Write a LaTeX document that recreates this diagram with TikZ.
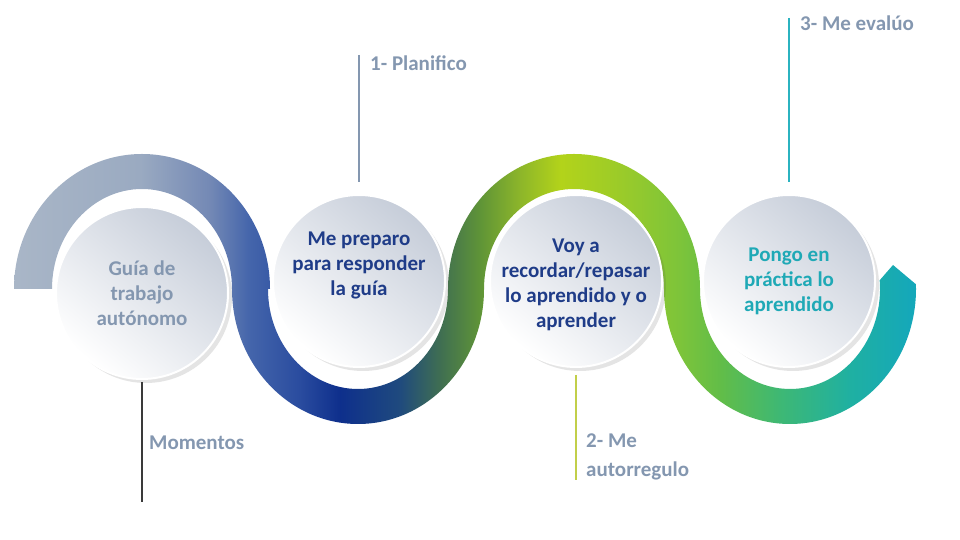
\documentclass[tikz,border=0pt]{standalone}
\usepackage{fontspec}
\setmainfont{Carlito}
\usetikzlibrary{shadows}

\definecolor{grayblue}{HTML}{8497B0}
\definecolor{navytext}{HTML}{1F3C88}
\definecolor{tealtext}{HTML}{1FA9B6}
\definecolor{circTop}{HTML}{C6CDD9}
\definecolor{lineDark}{HTML}{3A3A3A}
\definecolor{lineLime}{HTML}{C2CF4A}
\definecolor{lineTeal}{HTML}{2BB3C0}

% colours of the band, left to right
\definecolor{bandA}{HTML}{A9B6C7}
\definecolor{bandB}{HTML}{9AAAC1}
\definecolor{bandC}{HTML}{7489B5}
\definecolor{bandD}{HTML}{4465AB}
\definecolor{bandE}{HTML}{2A4C9F}
\definecolor{bandF}{HTML}{0E2F8C}
\definecolor{bandG}{HTML}{1F4A7E}
\definecolor{bandH}{HTML}{3F6E52}
\definecolor{bandI}{HTML}{5F9437}
\definecolor{bandJ}{HTML}{8DB62A}
\definecolor{bandK}{HTML}{B3D31A}
\definecolor{bandL}{HTML}{9BCB29}
\definecolor{bandM}{HTML}{7DC43A}
\definecolor{bandN}{HTML}{62BD48}
\definecolor{bandO}{HTML}{3EB874}
\definecolor{bandP}{HTML}{1FB0A2}
\definecolor{bandQ}{HTML}{15A8B9}

\pgfdeclarehorizontalshading{snakeband}{100bp}{%
  color(0bp)=(bandA); color(25.8bp)=(bandA); color(32.3bp)=(bandB);
  color(35.9bp)=(bandC); color(38bp)=(bandD); color(40.6bp)=(bandE);
  color(42.7bp)=(bandF); color(45.8bp)=(bandG); color(47.9bp)=(bandH);
  color(50bp)=(bandI); color(52.1bp)=(bandJ); color(54.2bp)=(bandK);
  color(57.3bp)=(bandL); color(60.4bp)=(bandM); color(62.5bp)=(bandN);
  color(65.6bp)=(bandO); color(69.3bp)=(bandP); color(72.4bp)=(bandQ);
  color(100bp)=(bandQ)}

\begin{document}
\begin{tikzpicture}[x=1pt, y=1pt,
    circ/.style = {circle, minimum size=172, inner sep=0pt,
      top color=circTop, bottom color=white, shading angle=-40,
      draw=white, line width=2,
      drop shadow={shadow xshift=4, shadow yshift=-4, opacity=0.15, fill=black!70}},
    txt/.style = {font=\fontsize{21}{25}\selectfont\bfseries, align=center},
    lbl/.style = {font=\fontsize{21}{29}\selectfont\bfseries, text=grayblue, anchor=west, inner sep=0pt}]
  \useasboundingbox (0,0) rectangle (960,540);

  \def\bandY{251}
  \def\rOx{126}
  \def\rOy{135}
  \def\rIx{90}
  \def\rIy{100}

  % the wavy band
  \begin{scope}
    \clip (14,\bandY) arc[start angle=180, end angle=0, x radius=128, y radius=\rOy]
        -- (232,\bandY) arc[start angle=0, end angle=180, x radius=\rIx, y radius=\rIy] -- cycle
      (232,\bandY) arc[start angle=180, end angle=360, x radius=\rOx, y radius=\rOy]
        -- (448,\bandY) arc[start angle=360, end angle=180, x radius=\rIx, y radius=\rIy] -- cycle
      (448,\bandY) arc[start angle=180, end angle=0, x radius=\rOx, y radius=\rOy]
        -- (664,\bandY) arc[start angle=0, end angle=180, x radius=\rIx, y radius=\rIy] -- cycle
      (664,\bandY) arc[start angle=180, end angle=362, x radius=\rOx, y radius=\rOy]
        -- (893,275) -- ({790+\rIx*cos(5)},{\bandY+\rIy*sin(5)})
        arc[start angle=5, end angle=-180, x radius=\rIx, y radius=\rIy] -- cycle;
    \shade[shading=snakeband] (0,0) rectangle (960,540);
  \end{scope}

  % circles
  \node[circ] (guia) at (142,247) {};
  \node[circ] (prepara) at (359,259) {};
  \node[circ] (recuerda) at (576,259) {};
  \node[circ] (practica) at (789,259) {};

  \node[txt, text=grayblue] (guiaTxt) at (guia.center) {Guía de\\trabajo\\autónomo};
  \node[txt, text=navytext] (preparaTxt) at ([yshift=16]prepara.center) {Me preparo\\para responder\\la guía};
  \node[txt, text=navytext] (recuerdaTxt) at ([yshift=-4]recuerda.center) {Voy a\\recordar/repasar\\lo aprendido y o\\aprender};
  \node[txt, text=tealtext] (practicaTxt) at (practica.center) {Pongo en\\práctica lo\\aprendido};

  % moments
  \coordinate (momEnd) at (142,38);
  \coordinate (planTop) at (359,485);
  \coordinate (autoEnd) at (576,60);
  \coordinate (evalTop) at (789,522);

  \begin{scope}[line width=2]
    \draw[lineDark] ([yshift=-2]guia.south) -- (momEnd);
    \draw[grayblue] (planTop) -- ([yshift=12]prepara.north);
    \draw[lineLime] ([yshift=-7]recuerda.south) -- (autoEnd);
    \draw[lineTeal] (evalTop) -- ([yshift=12]practica.north);
  \end{scope}

  \node[lbl] (momentos) at (149,97) {Momentos};
  \node[lbl] (planifico) at (370,477) {1- Planifico};
  \node[lbl, align=left] (autorregulo) at (586,83) {2- Me\\autorregulo};
  \node[lbl] (evaluo) at (800,517) {3- Me evalúo};
\end{tikzpicture}
\end{document}
